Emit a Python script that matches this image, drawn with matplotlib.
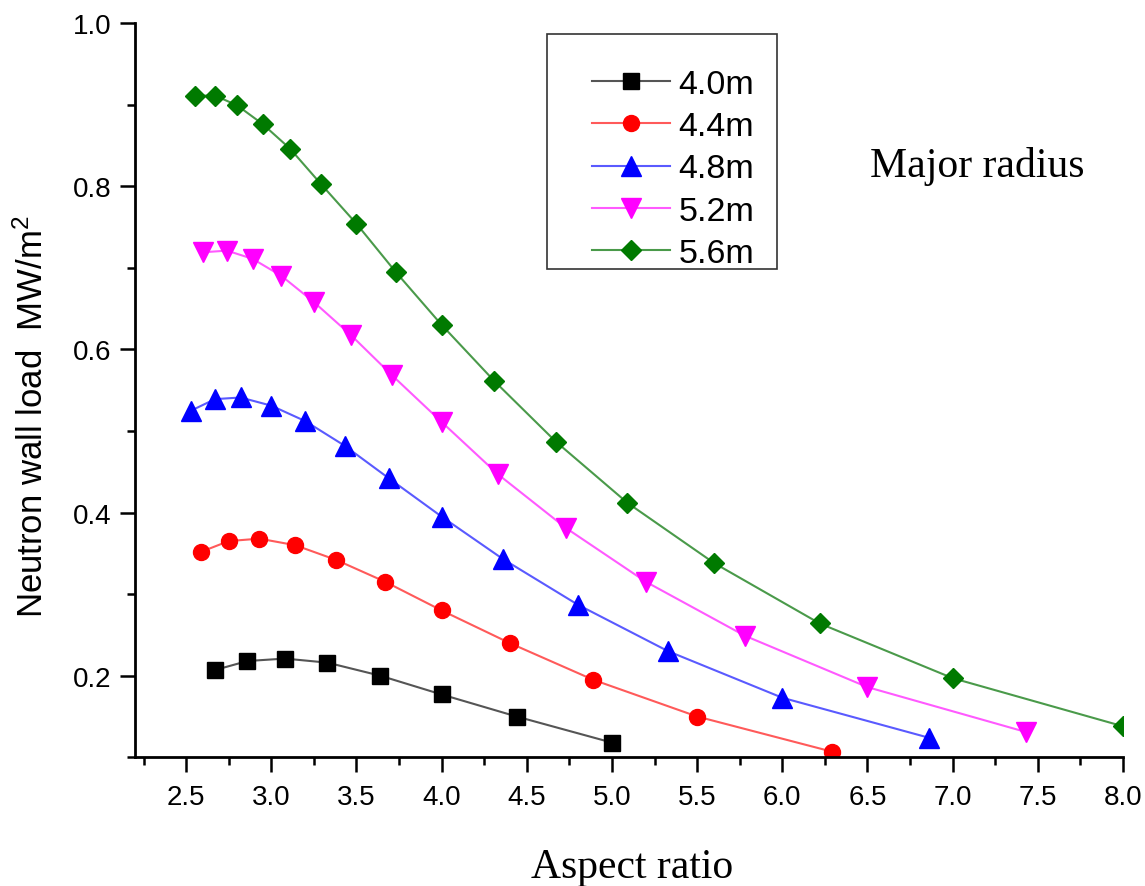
import matplotlib
matplotlib.use('Agg')
import matplotlib.pyplot as plt
from matplotlib.patches import Rectangle
from matplotlib.ticker import MultipleLocator

plt.rcParams['font.family'] = ['Liberation Sans', 'DejaVu Sans']
plt.rcParams['mathtext.fontset'] = 'custom'
plt.rcParams['mathtext.rm'] = 'Liberation Sans'
plt.rcParams['mathtext.default'] = 'regular'

# data (aspect ratio, neutron wall load MW/m2)
labels = ['4.0m', '4.4m', '4.8m', '5.2m', '5.6m']

x_40 = [2.67, 2.86, 3.08, 3.33, 3.64, 4.00, 4.44, 5.00]
y_40 = [0.207, 0.218, 0.221, 0.216, 0.200, 0.177, 0.150, 0.118]

x_44 = [2.59, 2.75, 2.93, 3.14, 3.38, 3.67, 4.00, 4.40, 4.89, 5.50, 6.29]
y_44 = [0.352, 0.365, 0.368, 0.360, 0.342, 0.315, 0.280, 0.240, 0.195, 0.150, 0.107]

x_48 = [2.53, 2.67, 2.82, 3.00, 3.20, 3.43, 3.69, 4.00, 4.36, 4.80, 5.33, 6.00, 6.86]
y_48 = [0.525, 0.539, 0.541, 0.531, 0.512, 0.482, 0.442, 0.395, 0.343, 0.287, 0.230, 0.173, 0.124]

x_52 = [2.60, 2.74, 2.89, 3.06, 3.25, 3.47, 3.71, 4.00, 4.33, 4.73, 5.20, 5.78, 6.50, 7.43]
y_52 = [0.719, 0.721, 0.711, 0.690, 0.658, 0.617, 0.568, 0.511, 0.447, 0.381, 0.315, 0.249, 0.186, 0.131]

x_56 = [2.55, 2.67, 2.80, 2.95, 3.11, 3.29, 3.50, 3.73, 4.00, 4.31, 4.67, 5.09, 5.60, 6.22, 7.00, 8.00]
y_56 = [0.911, 0.911, 0.899, 0.876, 0.846, 0.803, 0.754, 0.695, 0.630, 0.561, 0.487, 0.412, 0.338, 0.264, 0.197, 0.138]

xs = [x_40, x_44, x_48, x_52, x_56]
ys = [y_40, y_44, y_48, y_52, y_56]
markers = ['s', 'o', '^', 'v', 'D']
msizes = [11, 11.5, 14, 14, 10]
mcolors = ['black', 'red', 'blue', 'magenta', '#007a00']
lcolors = ['#555555', '#ff5a5a', '#5a5aff', '#ff5aff', '#4a9a4a']

W, H = 1145, 887
fig = plt.figure(figsize=(W / 100, H / 100), dpi=100)
ax = fig.add_axes([135 / W, 1 - 758.3 / H, (1123 - 135) / W, (758.3 - 24) / H])

for x, y, m, ms, mc, lc, lab in zip(xs, ys, markers, msizes, mcolors, lcolors, labels):
    ax.plot(x, y, color=lc, lw=1.5, marker=m, ms=ms, mfc=mc, mec=mc, label=lab)

ax.set_xlim(2.2, 8.0)
ax.set_ylim(0.1, 1.0)
ax.xaxis.set_minor_locator(MultipleLocator(0.25))
ax.yaxis.set_minor_locator(MultipleLocator(0.1))
ax.set_xticks([2.5, 3.0, 3.5, 4.0, 4.5, 5.0, 5.5, 6.0, 6.5, 7.0, 7.5, 8.0])
ax.set_yticks([0.2, 0.4, 0.6, 0.8, 1.0])
ax.xaxis.set_major_formatter(plt.FormatStrFormatter('%.1f'))
ax.yaxis.set_major_formatter(plt.FormatStrFormatter('%.1f'))

ax.spines['top'].set_visible(False)
ax.spines['right'].set_visible(False)
ax.spines['left'].set_linewidth(2)
ax.spines['bottom'].set_linewidth(2)
ax.tick_params(which='major', direction='out', length=11, width=1.8, labelsize=20, pad=8)
ax.tick_params(which='minor', direction='out', length=6, width=1.8)
ax.tick_params(axis='y', which='major', pad=6)

# axis titles
fig.text(632 / W, 1 - 878 / H, 'Aspect ratio', family='Liberation Serif', fontsize=30,
         ha='center', va='baseline')
fig.text(33 / W, 1 - 417 / H, 'Neutron wall load  MW/m$^2$', fontsize=25,
         rotation=90, ha='center', va='center')
fig.text(870 / W, 1 - 177 / H, 'Major radius', family='Liberation Serif', fontsize=30,
         ha='left', va='baseline')

# legend with a separate frame
leg = ax.legend(loc='upper left', bbox_to_anchor=(592 / W, 1 - 70 / H),
                bbox_transform=fig.transFigure, frameon=False, fontsize=24.5,
                handlelength=2.3, handletextpad=0.24, labelspacing=0.33,
                borderpad=0, borderaxespad=0)
fig.patches.append(Rectangle((547 / W, 1 - 270 / H), 230 / W, 235 / H,
                             transform=fig.transFigure, fill=False,
                             edgecolor='#333333', lw=1.2))

fig.savefig('out.png', dpi=100)
